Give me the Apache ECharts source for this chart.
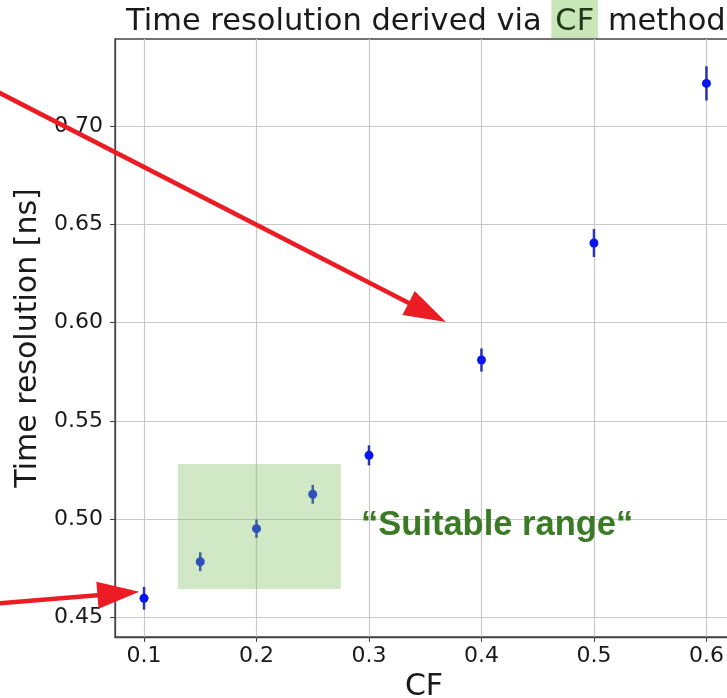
<!DOCTYPE html>
<html>
<head>
<meta charset="utf-8">
<script src="https://cdn.jsdelivr.net/npm/echarts@6/dist/echarts.min.js"></script>
<style>
  html, body { margin: 0; padding: 0; background: #fff; }
  #main { width: 727px; height: 698px; }
</style>
</head>
<body>
<div id="main"></div>
<script>
// time resolution vs CF fraction, with error bars
const cfValues = [0.1, 0.15, 0.2, 0.25, 0.3, 0.4, 0.5, 0.6];
const resValues = [0.4598, 0.4784, 0.4952, 0.5127, 0.5325, 0.5810, 0.6405, 0.7217];
const resErrors = [0.0058, 0.0048, 0.0047, 0.0048, 0.0051, 0.0059, 0.0071, 0.0087];

const xTicks = [0.1, 0.2, 0.3, 0.4, 0.5, 0.6];
const yTicks = [0.45, 0.50, 0.55, 0.60, 0.65, 0.70];

// green box for the suitable range: [x0, x1, y0, y1]
const suitableRange = [0.130, 0.275, 0.4645, 0.5281];

// red arrows, [start, tip] in data units
const arrows = [
  [[-0.035, 0.7188], [0.3684, 0.6003]],
  [[-0.035, 0.4569], [0.0958, 0.4631]]
];

const points = cfValues.map((x, i) => [x, resValues[i], resErrors[i]]);

const chart = echarts.init(document.getElementById('main'), null, { renderer: 'canvas' });

const tickFont = { fontFamily: 'DejaVu Sans', fontSize: 22, color: '#1a1a1a' };
const titleFont = { fontFamily: 'DejaVu Sans', fontSize: 30.5, color: '#1a1a1a', padding: [7, 0, 0, 0] };

chart.setOption({
  animation: false,
  backgroundColor: '#fff',
  title: {
    text: '{t|Time resolution derived via }{hl|CF}{t| method}',
    left: 126,
    top: 0,
    padding: 0,
    textStyle: {
      fontFamily: 'DejaVu Sans',
      fontSize: 30.5,
      fontWeight: 'normal',
      color: '#1a1a1a',
      rich: {
        t: titleFont,
        hl: {
          fontFamily: 'DejaVu Sans',
          fontSize: 30.5,
          color: '#1f3a16',
          backgroundColor: '#c9e6b9',
          padding: [7, 4, 0, 4]
        }
      }
    }
  },
  grid: {
    left: 115, top: 39, right: -6, bottom: 61,
    outerBoundsMode: 'none',
    containLabel: false,
    show: true, borderColor: '#444', borderWidth: 1.3
  },
  xAxis: {
    type: 'value',
    min: 0.0742,
    max: 0.6236,
    name: 'CF',
    nameLocation: 'middle',
    nameGap: 33,
    nameTextStyle: { fontFamily: 'DejaVu Sans', fontSize: 30, color: '#1a1a1a' },
    axisLine: { show: true, onZero: false, lineStyle: { color: '#444', width: 1.3 } },
    axisTick: { show: true, length: 5, customValues: xTicks, lineStyle: { color: '#444' } },
    axisLabel: Object.assign({ customValues: xTicks, margin: 8, formatter: v => v.toFixed(1) }, tickFont),
    splitLine: { show: true, lineStyle: { color: '#c8c8c8', width: 1.2 } }
  },
  yAxis: {
    type: 'value',
    min: 0.4401,
    max: 0.7443,
    name: 'Time resolution [ns]',
    nameLocation: 'middle',
    nameGap: 62,
    nameTextStyle: { fontFamily: 'DejaVu Sans', fontSize: 30, color: '#1a1a1a' },
    axisLine: { show: true, onZero: false, lineStyle: { color: '#444', width: 1.3 } },
    axisTick: { show: true, length: 5, customValues: yTicks, lineStyle: { color: '#444' } },
    axisLabel: Object.assign({ customValues: yTicks, margin: 12, formatter: v => v.toFixed(2) }, tickFont),
    splitLine: { show: true, lineStyle: { color: '#c8c8c8', width: 1.2 } }
  },
  series: [
    {
      // error bars
      type: 'custom',
      data: points,
      encode: { x: 0, y: 1 },
      z: 2,
      silent: true,
      renderItem: (params, api) => {
        const x = api.value(0), y = api.value(1), e = api.value(2);
        const lo = api.coord([x, y - e]);
        const hi = api.coord([x, y + e]);
        return {
          type: 'line',
          shape: { x1: lo[0], y1: lo[1], x2: hi[0], y2: hi[1] },
          style: { stroke: '#2a33b0', lineWidth: 2.5 }
        };
      }
    },
    {
      type: 'scatter',
      data: points,
      symbolSize: 9,
      z: 3,
      itemStyle: { color: '#0a16f0', opacity: 1 }
    },
    {
      // translucent green box on top
      type: 'custom',
      data: [suitableRange],
      encode: { x: [0, 1], y: [2, 3] },
      z: 10,
      silent: true,
      renderItem: (params, api) => {
        const p0 = api.coord([api.value(0), api.value(3)]);
        const p1 = api.coord([api.value(1), api.value(2)]);
        return {
          type: 'rect',
          shape: { x: p0[0], y: p0[1], width: p1[0] - p0[0], height: p1[1] - p0[1] },
          style: { fill: 'rgba(120,190,90,0.35)' }
        };
      }
    }
  ]
});

// arrow = shaft + triangular head, placed from data coords
function arrowGraphics(start, tip) {
  const a = chart.convertToPixel({ gridIndex: 0 }, start);
  const b = chart.convertToPixel({ gridIndex: 0 }, tip);
  const dx = b[0] - a[0], dy = b[1] - a[1];
  const len = Math.hypot(dx, dy);
  const ux = dx / len, uy = dy / len;
  const headLen = 42, headHalf = 13.5;
  const bx = b[0] - ux * headLen, by = b[1] - uy * headLen;
  return [
    {
      type: 'line', z: 100, silent: true,
      shape: { x1: a[0], y1: a[1], x2: bx + ux * 3, y2: by + uy * 3 },
      style: { stroke: '#ec1c24', lineWidth: 4.5 }
    },
    {
      type: 'polygon', z: 100, silent: true,
      shape: { points: [b, [bx - uy * headHalf, by + ux * headHalf], [bx + uy * headHalf, by - ux * headHalf]] },
      style: { fill: '#ec1c24' }
    }
  ];
}

let graphics = [];
arrows.forEach(ar => { graphics = graphics.concat(arrowGraphics(ar[0], ar[1])); });
graphics.push({
  type: 'text', z: 100, silent: true,
  x: 361, y: 525,
  style: {
    text: '\u201CSuitable range\u201C',
    fontFamily: 'Liberation Sans',
    fontWeight: 'bold',
    fontSize: 34.5,
    fill: '#3b7b26',
    verticalAlign: 'middle'
  }
});
chart.setOption({ graphic: graphics });
</script>
</body>
</html>
